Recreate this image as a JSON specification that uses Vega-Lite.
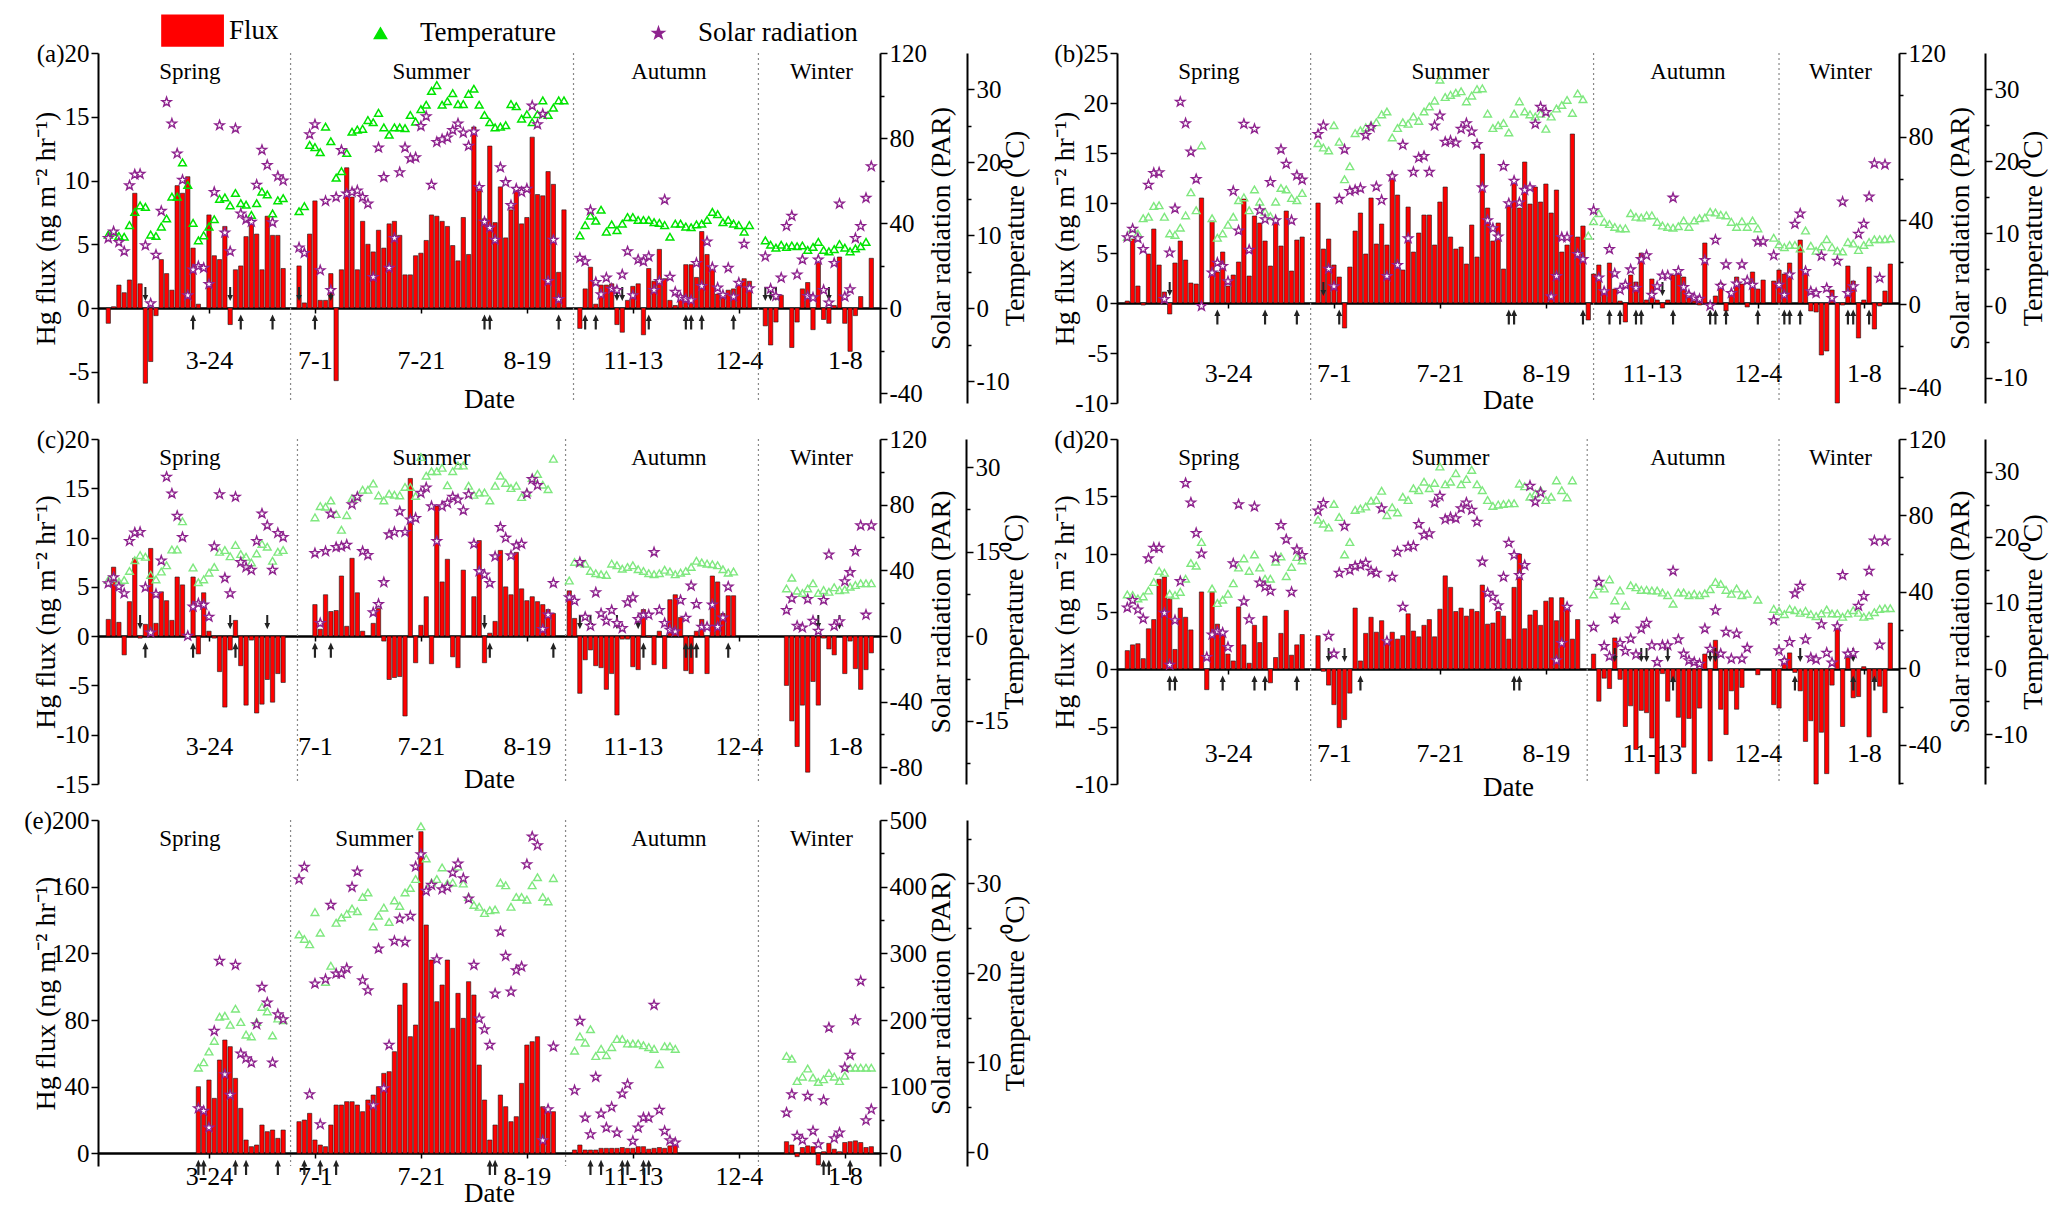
{
  "$schema": "https://vega.github.io/schema/vega-lite/v6.json",
  "padding": {"left": 23, "top": 17, "right": 5, "bottom": 5},
  "background": "white",
  "config": {
    "font": "Liberation Serif",
    "view": {"stroke": null},
    "axis": {
      "labelFont": "Liberation Serif", "titleFont": "Liberation Serif",
      "labelFontSize": 25, "titleFontSize": 28, "titleFontWeight": "normal",
      "labelColor": "black", "titleColor": "black",
      "domainColor": "black", "domainWidth": 2, "tickColor": "black", "tickWidth": 1.5,
      "grid": false, "labelOverlap": false
    },
    "legend": {
      "orient": "none", "legendX": 78, "legendY": -36, "direction": "horizontal", "title": null,
      "labelFont": "Liberation Serif", "labelFontSize": 27, "labelColor": "black", "labelOffset": 26,
      "columnPadding": 88, "padding": 0, "symbolSize": 150
    }
  },
  "datasets": {
    "a": [
      {"d":1,"f":-1.2,"t":10.1,"s":32.9},{"d":2,"f":0.1,"t":10.5,"s":36},{"d":3,"f":1.8,"t":9.9,"s":31},{"d":4,"f":1.2,"t":9.8,"s":26.7},
      {"d":5,"f":2.2,"t":11.4,"s":57.7},{"d":6,"f":9,"t":13.2,"s":62.8},{"d":7,"f":1.9,"t":14.1,"s":63.1},{"d":8,"f":-5.9,"t":13.9,"s":29.5},
      {"d":9,"f":-4.2,"t":10.1,"s":2.2},{"d":10,"f":-0.6,"t":9.9,"s":25.1},{"d":11,"f":3.8,"t":11.2,"s":45.7},{"d":12,"f":2.7,"t":12.3,"s":96.9},
      {"d":13,"f":1.4,"t":15.3,"s":86.8},{"d":14,"f":9.6,"t":15.3,"s":72.7},{"d":15,"f":9,"t":20,"s":60.3},{"d":16,"f":10.3,"t":16.9,"s":6},
      {"d":17,"f":4.7,"t":11.7,"s":18.1},{"d":18,"f":0.3,"t":9.3,"s":19.7},{"d":19,"f":null,"t":10,"s":18.9},{"d":20,"f":7.3,"t":11.2,"s":11.3},
      {"d":21,"f":4.1,"t":12.2,"s":54.6},{"d":22,"f":3.8,"t":15,"s":86},{"d":23,"f":6.4,"t":15.2,"s":35.5},{"d":24,"f":-1.3,"t":14.1,"s":26.7},
      {"d":25,"f":3,"t":15.8,"s":84.5},{"d":26,"f":3.3,"t":14.4,"s":44.5},{"d":27,"f":5.6,"t":14.2,"s":41.7},{"d":28,"f":6.6,"t":12.8,"s":40.6},
      {"d":29,"f":5.8,"t":14.4,"s":58},{"d":30,"f":3,"t":16,"s":74.4},{"d":31,"f":7.2,"t":15.6,"s":67.3},{"d":32,"f":5.7,"t":13,"s":40.3},
      {"d":33,"f":5.7,"t":14.8,"s":62},{"d":34,"f":3.1,"t":15.1,"s":60},
      {"d":37,"f":3.3,"t":13.3,"s":28.5},{"d":38,"f":0.4,"t":14,"s":25.9},{"d":39,"f":5.8,"t":22.4,"s":81.7},{"d":40,"f":8.4,"t":22.1,"s":86.4},
      {"d":41,"f":0.6,"t":21.4,"s":17.8},{"d":42,"f":0.6,"t":24.9,"s":50.4},{"d":43,"f":2.7,"t":22.9,"s":8.5},{"d":44,"f":-5.7,"t":17.9,"s":52.2},
      {"d":45,"f":3,"t":18.8,"s":74.3},{"d":46,"f":11,"t":21.3,"s":53.8},{"d":47,"f":8.7,"t":24.2,"s":54.6},{"d":48,"f":3,"t":24.5,"s":55.3},
      {"d":49,"f":6.8,"t":24.6,"s":52.2},{"d":50,"f":5,"t":25.8,"s":49.1},{"d":51,"f":4.4,"t":25.5,"s":14.6},{"d":52,"f":6.1,"t":26.8,"s":75.5},
      {"d":53,"f":4.7,"t":24.8,"s":61.6},{"d":54,"f":6.6,"t":23.8,"s":18.9},{"d":55,"f":6.8,"t":24.8,"s":32.9},{"d":56,"f":5.7,"t":24.8,"s":63.9},
      {"d":57,"f":2.6,"t":24.7,"s":75.5},{"d":58,"f":2.6,"t":26.5,"s":70.4},{"d":59,"f":4.1,"t":25.6,"s":70.9},{"d":60,"f":4.3,"t":27.3,"s":85.6},
      {"d":61,"f":5.3,"t":27.9,"s":90.2},{"d":62,"f":7.3,"t":29.8,"s":58},{"d":63,"f":7.2,"t":30.6,"s":78.1},{"d":64,"f":6.8,"t":27.9,"s":79.4},
      {"d":65,"f":6.4,"t":28.4,"s":80.2},{"d":66,"f":4.9,"t":29.5,"s":83.7},{"d":67,"f":3.7,"t":28,"s":86.8},{"d":68,"f":7.1,"t":28,"s":82.5},
      {"d":69,"f":4.2,"t":29.4,"s":76.3},{"d":70,"f":14.2,"t":30.1,"s":83},{"d":71,"f":9.2,"t":27.9,"s":56.9},{"d":72,"f":7,"t":26.5,"s":40.6},
      {"d":73,"f":12.7,"t":25.5,"s":37.8},{"d":74,"f":6.7,"t":24.8,"s":32.1},{"d":75,"f":9.5,"t":24.9,"s":66.2},{"d":76,"f":5.5,"t":25.1,"s":59.2},
      {"d":77,"f":7.7,"t":28,"s":48.4},{"d":78,"f":9.3,"t":27.7,"s":56.1},{"d":79,"f":6.6,"t":26,"s":54.6},{"d":80,"f":7.1,"t":26.6,"s":56.1},
      {"d":81,"f":13.4,"t":25.5,"s":95.2},{"d":82,"f":8.9,"t":26.6,"s":86.4},{"d":83,"f":8.8,"t":28.5,"s":91.3},{"d":84,"f":10.7,"t":26.5,"s":12.7},
      {"d":85,"f":9.7,"t":27.5,"s":32.1},{"d":86,"f":2.8,"t":28.5,"s":4.2},{"d":87,"f":7.7,"t":28.5,"s":null},
      {"d":90,"f":-1.6,"t":10,"s":23.6},{"d":91,"f":1.5,"t":11.4,"s":22},{"d":92,"f":3.2,"t":12.7,"s":46},{"d":93,"f":0.3,"t":12,"s":12.2},
      {"d":94,"f":1.8,"t":13.5,"s":6.5},{"d":95,"f":1.8,"t":10.5,"s":14.3},{"d":96,"f":1.9,"t":11.5,"s":9.1},{"d":97,"f":-1.3,"t":10.7,"s":8.5},
      {"d":98,"f":-1.9,"t":11.6,"s":15.8},{"d":99,"f":0.6,"t":12.5,"s":26.7},{"d":100,"f":1.7,"t":12.5,"s":6},{"d":101,"f":1.9,"t":12.1,"s":22.8},
      {"d":102,"f":-2.1,"t":12.1,"s":22},{"d":103,"f":3.1,"t":12.1,"s":24.3},{"d":104,"f":2.1,"t":11.8,"s":8.5},{"d":105,"f":4.6,"t":11.7,"s":12.7},
      {"d":106,"f":2.3,"t":11.4,"s":51},{"d":107,"f":0.6,"t":9.8,"s":14.7},{"d":108,"f":0.2,"t":11.6,"s":7.6},{"d":109,"f":1,"t":11.6,"s":5},
      {"d":110,"f":3.4,"t":11.2,"s":4.2},{"d":111,"f":3.4,"t":11.1,"s":3.7},{"d":112,"f":2.4,"t":11.5,"s":21.2},{"d":113,"f":6,"t":11.6,"s":10.4},
      {"d":114,"f":4.2,"t":12.1,"s":31.3},{"d":115,"f":3.1,"t":13.2,"s":19.2},{"d":116,"f":1.1,"t":12.9,"s":9.6},{"d":117,"f":0.8,"t":11.8,"s":6.2},
      {"d":118,"f":1.4,"t":12.1,"s":18.9},{"d":119,"f":1.5,"t":11.6,"s":5.4},{"d":120,"f":1.8,"t":11.4,"s":11.9},{"d":121,"f":2.3,"t":10.5,"s":30.2},
      {"d":122,"f":2.1,"t":11.4,"s":9.3},
      {"d":125,"f":-1.4,"t":9.3,"s":24.3},{"d":126,"f":-2.9,"t":8.7,"s":9.1},{"d":127,"f":-1.1,"t":8.3,"s":5.7},{"d":128,"f":1,"t":8.7,"s":14.3},
      {"d":129,"f":null,"t":8.4,"s":38.6},{"d":130,"f":-3.1,"t":8.6,"s":43.4},{"d":131,"f":-1.1,"t":8.5,"s":15.8},{"d":132,"f":1.5,"t":8.6,"s":22.8},
      {"d":133,"f":2,"t":8,"s":5.7},{"d":134,"f":-1.7,"t":8.4,"s":5},{"d":135,"f":3.6,"t":9.1,"s":22.8},{"d":136,"f":-0.9,"t":8,"s":8.5},
      {"d":137,"f":-1.2,"t":7.8,"s":2.6},{"d":138,"f":0.2,"t":8.1,"s":21.2},{"d":139,"f":4,"t":8.8,"s":49.1},{"d":140,"f":-1.2,"t":8.3,"s":5.4},
      {"d":141,"f":-3.4,"t":7.8,"s":8.8},{"d":142,"f":-0.6,"t":8.2,"s":32.9},{"d":143,"f":0.9,"t":8.5,"s":38.6},{"d":144,"f":null,"t":9.1,"s":51.8},
      {"d":145,"f":3.9,"t":null,"s":66.7}
    ],
    "b": [
      {"d":1,"f":0.2,"t":9.5,"s":31.9},{"d":2,"f":6.4,"t":10.7,"s":35.9},{"d":3,"f":1.7,"t":10,"s":31.4},{"d":4,"f":-0.2,"t":12.1,"s":26.2},
      {"d":5,"f":4.9,"t":12.3,"s":57},{"d":6,"f":7.4,"t":13.8,"s":62.6},{"d":7,"f":3.8,"t":13.9,"s":62.9},{"d":8,"f":1.1,"t":12.3,"s":2.3},
      {"d":9,"f":-1.1,"t":10,"s":24.6},{"d":10,"f":4,"t":9.8,"s":45.6},{"d":11,"f":6.2,"t":10.8,"s":96.6},{"d":12,"f":4.3,"t":12.5,"s":86.4},
      {"d":13,"f":2,"t":15.7,"s":72.8},{"d":14,"f":1.9,"t":13.2,"s":59.7},{"d":15,"f":10.5,"t":22.2,"s":-1},{"d":16,"f":null,"t":null,"s":null},
      {"d":17,"f":8.2,"t":12.1,"s":15},{"d":18,"f":3.1,"t":9.4,"s":19.7},{"d":19,"f":5.1,"t":10,"s":18.1},{"d":20,"f":1.7,"t":11.2,"s":10.8},
      {"d":21,"f":2.8,"t":12.3,"s":54},{"d":22,"f":4.1,"t":14.6,"s":35.1},{"d":23,"f":10.4,"t":15,"s":86.1},{"d":24,"f":2.7,"t":13.2,"s":25.9},
      {"d":25,"f":8.7,"t":16.1,"s":83.7},{"d":26,"f":8,"t":14.4,"s":44.8},{"d":27,"f":6.2,"t":13,"s":40.5},{"d":28,"f":3.7,"t":12.4,"s":58.3},
      {"d":29,"f":8.5,"t":14.4,"s":40},{"d":30,"f":5.7,"t":16.3,"s":73.9},{"d":31,"f":9.2,"t":16.1,"s":67},{"d":32,"f":3.2,"t":14.9,"s":40},
      {"d":33,"f":6.3,"t":14.6,"s":61.5},{"d":34,"f":6.6,"t":15.6,"s":59.4},
      {"d":37,"f":10,"t":22.5,"s":81.2},{"d":38,"f":5.4,"t":21.9,"s":85.3},{"d":39,"f":6.4,"t":21.5,"s":16.8},{"d":40,"f":3.8,"t":25,"s":8.4},
      {"d":41,"f":2.6,"t":22.7,"s":50.2},{"d":42,"f":-2.5,"t":17.5,"s":73.9},{"d":43,"f":3.6,"t":19.3,"s":54},{"d":44,"f":7.2,"t":23.9,"s":54.5},
      {"d":45,"f":9,"t":24.3,"s":55.3},{"d":46,"f":4.9,"t":24.7,"s":80.7},{"d":47,"f":10.5,"t":25,"s":84.5},{"d":48,"f":5.9,"t":25.4,"s":56.1},
      {"d":49,"f":7.9,"t":26.5,"s":49.7},{"d":50,"f":5.8,"t":26.9,"s":13.3},{"d":51,"f":12.9,"t":23.3,"s":61},{"d":52,"f":10.8,"t":24.6,"s":18.6},
      {"d":53,"f":3.3,"t":25.4,"s":76.1},{"d":54,"f":9.6,"t":25.2,"s":31.4},{"d":55,"f":5.1,"t":26.2,"s":63.1},{"d":56,"f":7,"t":25.6,"s":69.9},
      {"d":57,"f":8.8,"t":26.9,"s":70.7},{"d":58,"f":8.8,"t":27.6,"s":63.1},{"d":59,"f":5.8,"t":28.4,"s":85.3},{"d":60,"f":10.1,"t":31.3,"s":90.1},
      {"d":61,"f":11.6,"t":28.9,"s":77.5},{"d":62,"f":6.6,"t":29.2,"s":78},{"d":63,"f":5.4,"t":29.5,"s":77.2},{"d":64,"f":5.6,"t":29.7,"s":83.7},
      {"d":65,"f":3.9,"t":28.3,"s":86.4},{"d":66,"f":7.8,"t":29.1,"s":82.4},{"d":67,"f":4.6,"t":30,"s":76.4},{"d":68,"f":14.9,"t":30.1,"s":55.7},
      {"d":69,"f":9.5,"t":26.6,"s":40},{"d":70,"f":6.2,"t":24.6,"s":36.2},{"d":71,"f":8,"t":25,"s":32.2},{"d":72,"f":3.4,"t":25.3,"s":65.9},
      {"d":73,"f":9.9,"t":24,"s":48.1},{"d":74,"f":12.1,"t":26.6,"s":58.9},{"d":75,"f":9.5,"t":28.3,"s":48.5},{"d":76,"f":14.1,"t":26.9,"s":54.5},
      {"d":77,"f":9.9,"t":26.5,"s":55.7},{"d":78,"f":11.6,"t":26.2,"s":86.1},{"d":79,"f":10.1,"t":26.6,"s":94.2},{"d":80,"f":11.9,"t":24.5,"s":91.7},
      {"d":81,"f":9,"t":26.2,"s":3.6},{"d":82,"f":11.3,"t":27.3,"s":13.3},{"d":83,"f":5.1,"t":27.8,"s":31.9},{"d":84,"f":5.8,"t":28.5,"s":31.9},
      {"d":85,"f":16.9,"t":26.7,"s":null},{"d":86,"f":6.6,"t":29.4,"s":23.8},{"d":87,"f":7.7,"t":28.6,"s":21.4},{"d":88,"f":-1.7,"t":9.7,"s":null},
      {"d":89,"f":2.9,"t":11.7,"s":44.8},{"d":90,"f":3.8,"t":12.8,"s":12.6},{"d":91,"f":1.2,"t":11.6,"s":6},{"d":92,"f":4,"t":11.3,"s":26.2},
      {"d":93,"f":1.4,"t":10.9,"s":14.6},{"d":94,"f":0.2,"t":10.7,"s":6.8},{"d":95,"f":-1.9,"t":10.7,"s":9.2},{"d":96,"f":2.8,"t":12.8,"s":16.5},
      {"d":97,"f":2.1,"t":12.3,"s":7.6},{"d":98,"f":5,"t":12.2,"s":21.4},{"d":99,"f":0.3,"t":12.5,"s":23.3},{"d":100,"f":2.4,"t":12.5,"s":4.4},
      {"d":101,"f":0.3,"t":11.6,"s":8.4},{"d":102,"f":-0.5,"t":11.1,"s":13.6},{"d":103,"f":0.3,"t":10.9,"s":13.6},{"d":104,"f":2.8,"t":10.8,"s":50.8},
      {"d":105,"f":2.9,"t":11,"s":15.7},{"d":106,"f":2.6,"t":11.8,"s":8.1},{"d":107,"f":1,"t":10.9,"s":4.4},{"d":108,"f":0.2,"t":11.8,"s":3.1},
      {"d":109,"f":-0.2,"t":12.1,"s":2.4},{"d":110,"f":6,"t":12.2,"s":21},{"d":111,"f":null,"t":13,"s":-0.8},{"d":112,"f":0.7,"t":12.9,"s":30.7},
      {"d":113,"f":2,"t":12.6,"s":8.7},{"d":114,"f":-0.8,"t":12.5,"s":18.9},{"d":115,"f":1.2,"t":11.6,"s":5.2},{"d":116,"f":2.6,"t":10.9,"s":9.7},
      {"d":117,"f":1.9,"t":11.7,"s":18.9},{"d":118,"f":-0.4,"t":10.9,"s":11.2},{"d":119,"f":3.1,"t":11.8,"s":9.2},{"d":120,"f":1.4,"t":10.7,"s":29.9},
      {"d":121,"f":2.3,"t":null,"s":29.9},
      {"d":123,"f":2.2,"t":9.4,"s":23.3},{"d":124,"f":3.3,"t":8.5,"s":9.2},{"d":125,"f":2.9,"t":8.1,"s":4.4},{"d":126,"f":4,"t":8.4,"s":14.1},
      {"d":127,"f":null,"t":8.4,"s":38.3},{"d":128,"f":6.3,"t":7.9,"s":43.2},{"d":129,"f":3.3,"t":10.4,"s":15.7},{"d":130,"f":-0.8,"t":8.3,"s":6},
      {"d":131,"f":-0.9,"t":7.6,"s":5.2},{"d":132,"f":-5.2,"t":8.2,"s":23},{"d":133,"f":-4.8,"t":9.2,"s":7.6},{"d":134,"f":1.3,"t":8.1,"s":2.8},
      {"d":135,"f":-10,"t":7.6,"s":20.6},{"d":136,"f":-0.2,"t":7.5,"s":48.9},{"d":137,"f":3.7,"t":8.8,"s":5.2},{"d":138,"f":2.2,"t":8.6,"s":8.4},
      {"d":139,"f":-3.5,"t":7.7,"s":33.5},{"d":140,"f":0.3,"t":8.4,"s":38.3},{"d":141,"f":3.6,"t":8.8,"s":51.3},{"d":142,"f":-2.6,"t":9.2,"s":67.2},
      {"d":143,"f":-0.3,"t":9.2,"s":12.5},{"d":144,"f":1.2,"t":9.2,"s":66.7},{"d":145,"f":3.9,"t":9.3,"s":null}
    ],
    "c": [
      {"d":1,"f":1.7,"t":10,"s":32},{"d":2,"f":7,"t":10.3,"s":35.7},{"d":3,"f":1.4,"t":9.7,"s":30},{"d":4,"f":-1.9,"t":10,"s":25.9},
      {"d":5,"f":3.5,"t":11.6,"s":57.8},{"d":6,"f":7.9,"t":13.5,"s":62.9},{"d":7,"f":-0.2,"t":14.4,"s":63.3},{"d":8,"f":1.2,"t":14.1,"s":29.6},
      {"d":9,"f":8.9,"t":10.9,"s":2},{"d":10,"f":1.3,"t":10.1,"s":25.5},{"d":11,"f":4.5,"t":11.5,"s":45.9},{"d":12,"f":3.6,"t":12.6,"s":96.9},
      {"d":13,"f":1.6,"t":15.4,"s":86.7},{"d":14,"f":6,"t":15.4,"s":73.1},{"d":15,"f":5.2,"t":20.4,"s":60.2},{"d":16,"f":null,"t":null,"s":0},
      {"d":17,"f":6,"t":12.2,"s":17.8},{"d":18,"f":-1.8,"t":9.6,"s":19.8},{"d":19,"f":4.4,"t":10.1,"s":19},{"d":20,"f":0.5,"t":11.3,"s":11.6},
      {"d":21,"f":-0.2,"t":12.3,"s":54.5},{"d":22,"f":-3.6,"t":15,"s":86.3},{"d":23,"f":-7.2,"t":15.3,"s":35.3},{"d":24,"f":-1.4,"t":14.2,"s":25.9},
      {"d":25,"f":1.6,"t":16.2,"s":84.7},{"d":26,"f":-3,"t":14.6,"s":44.9},{"d":27,"f":-7,"t":14.1,"s":41.8},{"d":28,"f":-0.4,"t":13.1,"s":40.2},
      {"d":29,"f":-7.8,"t":14.7,"s":57.8},{"d":30,"f":-6.9,"t":16.4,"s":74.5},{"d":31,"f":-4.4,"t":15.9,"s":67.3},{"d":32,"f":-6.7,"t":13.4,"s":40.2},
      {"d":33,"f":-3.8,"t":15,"s":62.7},{"d":34,"f":-4.7,"t":15.3,"s":60.2},
      {"d":40,"f":3.2,"t":21.1,"s":50.4},{"d":41,"f":0.7,"t":23.1,"s":7.8},{"d":42,"f":4.2,"t":23,"s":51.6},{"d":43,"f":2.5,"t":24.1,"s":74.5},
      {"d":44,"f":2.6,"t":21.7,"s":54.1},{"d":45,"f":6.1,"t":18.9,"s":54.5},{"d":46,"f":1,"t":21.5,"s":55.5},{"d":47,"f":7.9,"t":24.5,"s":80.2},
      {"d":48,"f":4.4,"t":24.8,"s":84.7},{"d":49,"f":0.5,"t":26,"s":51.6},{"d":50,"f":null,"t":26,"s":49.2},{"d":51,"f":1.3,"t":27.1,"s":14.3},
      {"d":52,"f":2.8,"t":25,"s":19.4},{"d":53,"f":-0.5,"t":24.1,"s":32.7},{"d":54,"f":-4.4,"t":25.3,"s":61.8},{"d":55,"f":-4.2,"t":25.1,"s":63.3},
      {"d":56,"f":-4.1,"t":25,"s":75.9},{"d":57,"f":-8.1,"t":26.5,"s":63.3},{"d":58,"f":16,"t":26.5,"s":70.8},{"d":59,"f":-2.7,"t":24.9,"s":71.8},
      {"d":60,"f":1.1,"t":31.8,"s":87.1},{"d":61,"f":4,"t":28.5,"s":90.4},{"d":62,"f":-2.8,"t":29.3,"s":79},{"d":63,"f":13.2,"t":29.3,"s":57.8},
      {"d":64,"f":5.5,"t":29.9,"s":79},{"d":65,"f":7.8,"t":26.8,"s":81},{"d":66,"f":-2.1,"t":29.3,"s":84.7},{"d":67,"f":-3.2,"t":30.3,"s":83.1},
      {"d":68,"f":6.7,"t":30.3,"s":76.5},{"d":69,"f":null,"t":26.7,"s":86.3},{"d":70,"f":4,"t":25.1,"s":56.1},{"d":71,"f":9.7,"t":25.5,"s":39.4},
      {"d":72,"f":-2.7,"t":25.5,"s":37.3},{"d":73,"f":0.3,"t":24.1,"s":32.2},{"d":74,"f":1.5,"t":26.7,"s":48.4},{"d":75,"f":8.7,"t":28.5,"s":66.3},
      {"d":76,"f":5,"t":27.2,"s":59.8},{"d":77,"f":4.2,"t":26.3,"s":49},{"d":78,"f":8.5,"t":26.7,"s":55.1},{"d":79,"f":4.8,"t":24.7,"s":56.1},
      {"d":80,"f":3.6,"t":25.5,"s":86.7},{"d":81,"f":4,"t":28.1,"s":95.5},{"d":82,"f":3.5,"t":28.8,"s":91.8},{"d":83,"f":3.2,"t":26.9,"s":4.1},
      {"d":84,"f":2.7,"t":26.1,"s":12.9},{"d":85,"f":2.3,"t":31.5,"s":32.2},
      {"d":88,"f":4.6,"t":9.9,"s":23.5},{"d":89,"f":1.8,"t":13.2,"s":21.4},{"d":90,"f":-5.8,"t":13.1,"s":44.9},{"d":91,"f":-2.4,"t":12.9,"s":11.6},
      {"d":92,"f":-1.4,"t":11.6,"s":6.1},{"d":93,"f":-3,"t":11.2,"s":26.5},{"d":94,"f":-3.2,"t":11,"s":13.7},{"d":95,"f":-5.4,"t":10.9,"s":9.2},
      {"d":96,"f":-3.8,"t":12.9,"s":15.7},{"d":97,"f":-8,"t":12.6,"s":7.8},{"d":98,"f":-0.3,"t":12,"s":4.7},{"d":99,"f":-0.3,"t":12.3,"s":20.4},
      {"d":100,"f":-3.1,"t":12.6,"s":23.5},{"d":101,"f":-3.4,"t":11.9,"s":10.2},{"d":102,"f":2.7,"t":11.6,"s":12.9},{"d":103,"f":-0.1,"t":11.2,"s":12.9},
      {"d":104,"f":-2.9,"t":11,"s":51},{"d":105,"f":0.5,"t":11.2,"s":15.7},{"d":106,"f":-3.3,"t":11.8,"s":7.8},{"d":107,"f":3.7,"t":11.5,"s":3.7},
      {"d":108,"f":4.2,"t":11,"s":2.7},{"d":109,"f":1.9,"t":11.3,"s":21.8},{"d":110,"f":-3.5,"t":11.6,"s":11},{"d":111,"f":-3.8,"t":12.3,"s":30.6},
      {"d":112,"f":0.5,"t":13.4,"s":19.4},{"d":113,"f":1.7,"t":13.1,"s":5.5},{"d":114,"f":-3.8,"t":12.9,"s":5.5},{"d":115,"f":6.1,"t":12.8,"s":19},
      {"d":116,"f":5.5,"t":12.6,"s":5.5},{"d":117,"f":2.3,"t":11.9,"s":11.2},{"d":118,"f":4.1,"t":11.3,"s":30},{"d":119,"f":4.1,"t":11.5,"s":null},
      {"d":129,"f":-5,"t":8.5,"s":15.7},{"d":130,"f":-8.6,"t":10.4,"s":22.9},{"d":131,"f":-11.2,"t":8.1,"s":6.1},{"d":132,"f":-7,"t":7.7,"s":5.1},
      {"d":133,"f":-13.8,"t":8.5,"s":22.4},{"d":134,"f":-4.6,"t":9.4,"s":9.2},{"d":135,"f":-7,"t":7.7,"s":3.1},{"d":136,"f":-0.2,"t":8.2,"s":21.8},
      {"d":137,"f":-1.3,"t":7.9,"s":49.6},{"d":138,"f":-1.9,"t":8.7,"s":6.1},{"d":139,"f":null,"t":8.2,"s":8.8},{"d":140,"f":-3.8,"t":8.3,"s":33.3},
      {"d":141,"f":-0.5,"t":8.8,"s":38.8},{"d":142,"f":-3.3,"t":9.1,"s":51.6},{"d":143,"f":-5.4,"t":9.4,"s":67.3},{"d":144,"f":-3.4,"t":9.4,"s":12.9},
      {"d":145,"f":-1.7,"t":9.4,"s":67.3}
    ],
    "d": [
      {"d":1,"f":1.6,"t":11.3,"s":31.8},{"d":2,"f":2.1,"t":11.2,"s":35.7},{"d":3,"f":2.2,"t":10.7,"s":30.8},{"d":4,"f":0.9,"t":11,"s":26},
      {"d":5,"f":3.5,"t":11.9,"s":57.5},{"d":6,"f":4.3,"t":13.2,"s":63.1},{"d":7,"f":7.8,"t":14.9,"s":63.1},{"d":8,"f":8,"t":14.6,"s":29},
      {"d":9,"f":6.1,"t":11.4,"s":1.9},{"d":10,"f":1.7,"t":11.2,"s":25.2},{"d":11,"f":5.3,"t":11.7,"s":45.6},{"d":12,"f":4.5,"t":13.7,"s":96.9},
      {"d":13,"f":3.4,"t":16.1,"s":86.7},{"d":14,"f":null,"t":15.7,"s":70.8},{"d":15,"f":6.7,"t":19.3,"s":60.1},{"d":16,"f":-1.8,"t":null,"s":5.9},
      {"d":17,"f":6.7,"t":12.2,"s":17.7},{"d":18,"f":3.9,"t":10,"s":19.4},{"d":19,"f":2.9,"t":10.5,"s":18.7},{"d":20,"f":1.3,"t":11.4,"s":11.2},
      {"d":21,"f":0.7,"t":13,"s":54.9},{"d":22,"f":5.4,"t":15.4,"s":85.8},{"d":23,"f":2.1,"t":16.8,"s":35.1},{"d":24,"f":0.5,"t":14.9,"s":25.7},
      {"d":25,"f":3.8,"t":17.4,"s":84.6},{"d":26,"f":2.3,"t":15.4,"s":44.9},{"d":27,"f":4.6,"t":13.7,"s":42.7},{"d":28,"f":-1.2,"t":13.7,"s":40.6},
      {"d":29,"f":1,"t":16.3,"s":58},{"d":30,"f":3.1,"t":17.1,"s":75},{"d":31,"f":5.1,"t":14.1,"s":67.5},{"d":32,"f":1.2,"t":15.5,"s":40},
      {"d":33,"f":2.1,"t":17,"s":62.2},{"d":34,"f":3,"t":16.5,"s":59.3},
      {"d":37,"f":2.9,"t":22.7,"s":82.5},{"d":38,"f":-0.2,"t":22.1,"s":86.4},{"d":39,"f":-1.4,"t":21.5,"s":17},{"d":40,"f":-3.1,"t":25.1,"s":7.7},
      {"d":41,"f":-5.1,"t":23.1,"s":50},{"d":42,"f":-4.4,"t":17.4,"s":74.5},{"d":43,"f":-2.1,"t":19.3,"s":51.4},{"d":44,"f":5.3,"t":24.2,"s":53.5},
      {"d":45,"f":0.7,"t":24.4,"s":54},{"d":46,"f":3.1,"t":24.7,"s":55.2},{"d":47,"f":4.5,"t":25.6,"s":51},{"d":48,"f":3.2,"t":25.7,"s":50},
      {"d":49,"f":4.2,"t":27.1,"s":83.7},{"d":50,"f":2.5,"t":23.4,"s":14.2},{"d":51,"f":3.2,"t":24.6,"s":47.9},{"d":52,"f":2.6,"t":23.8,"s":61},
      {"d":53,"f":2.9,"t":26.2,"s":32.2},{"d":54,"f":4.8,"t":25.7,"s":63.6},{"d":55,"f":3.3,"t":27.5,"s":64},{"d":56,"f":2.8,"t":27.2,"s":75.5},
      {"d":57,"f":3.8,"t":28.5,"s":69.8},{"d":58,"f":4.3,"t":27.5,"s":70.6},{"d":59,"f":2.8,"t":28.3,"s":86.7},{"d":60,"f":5.2,"t":30.8,"s":90.2},
      {"d":61,"f":8.1,"t":28.1,"s":78},{"d":62,"f":7.1,"t":28.5,"s":79},{"d":63,"f":5,"t":29.8,"s":78.5},{"d":64,"f":5.3,"t":28.1,"s":83.7},
      {"d":65,"f":4.6,"t":28.9,"s":86.7},{"d":66,"f":5.2,"t":30.3,"s":82.9},{"d":67,"f":5,"t":28.1,"s":76.7},{"d":68,"f":7.3,"t":27.2,"s":55.8},
      {"d":69,"f":3.9,"t":25.7,"s":39.5},{"d":70,"f":4,"t":24.8,"s":37.4},{"d":71,"f":5,"t":25,"s":33},{"d":72,"f":4.6,"t":25.1,"s":47.9},
      {"d":73,"f":2.6,"t":25.2,"s":65.7},{"d":74,"f":7.1,"t":25.2,"s":59.3},{"d":75,"f":10,"t":28.2,"s":48.8},{"d":76,"f":3.5,"t":27.8,"s":54},
      {"d":77,"f":4.7,"t":26.2,"s":95.5},{"d":78,"f":5.1,"t":26.7,"s":87.2},{"d":79,"f":3.8,"t":27.2,"s":92},{"d":80,"f":5.9,"t":25.7,"s":null},
      {"d":81,"f":6.2,"t":26.2,"s":null},{"d":82,"f":4.2,"t":28.7,"s":4.2},{"d":83,"f":6.2,"t":27.2,"s":13.3},{"d":84,"f":5.4,"t":26.1,"s":32.2},
      {"d":85,"f":2.6,"t":28.7,"s":null},{"d":86,"f":4.3,"t":null,"s":null},
      {"d":89,"f":1.3,"t":11.3,"s":21.7},{"d":90,"f":-2.8,"t":12.6,"s":45.3},{"d":91,"f":-0.8,"t":12.2,"s":11.7},{"d":92,"f":-1.7,"t":13.6,"s":6.3},
      {"d":93,"f":2.7,"t":10.4,"s":26},{"d":94,"f":-0.9,"t":11.9,"s":13.3},{"d":95,"f":-5,"t":9.6,"s":9.1},{"d":96,"f":-3.2,"t":12.7,"s":15.6},
      {"d":97,"f":-7,"t":12.4,"s":7.3},{"d":98,"f":-3.6,"t":12,"s":20.8},{"d":99,"f":-3.8,"t":12,"s":23.8},{"d":100,"f":-6,"t":11.9,"s":12.1},
      {"d":101,"f":-9.1,"t":11.9,"s":3.3},{"d":102,"f":-0.4,"t":11.6,"s":12.1},{"d":103,"f":-2.8,"t":11.2,"s":12.1},{"d":104,"f":-1.1,"t":9.9,"s":51},
      {"d":105,"f":-4.2,"t":11.6,"s":15.2},{"d":106,"f":-6.8,"t":11.6,"s":7.7},{"d":107,"f":-4.3,"t":11.2,"s":4.2},{"d":108,"f":-9.1,"t":11.4,"s":3.3},
      {"d":109,"f":-3.4,"t":11.2,"s":2.4},{"d":110,"f":1.3,"t":11.5,"s":20.8},{"d":111,"f":-8,"t":12.1,"s":10.3},{"d":112,"f":2.5,"t":13.2,"s":30.4},
      {"d":113,"f":-3.5,"t":12.9,"s":7.7},{"d":114,"f":-5.7,"t":12,"s":19.1},{"d":115,"f":-1.9,"t":11.4,"s":5.1},{"d":116,"f":-3.5,"t":12.2,"s":18.2},
      {"d":117,"f":-1.6,"t":11.2,"s":5.1},{"d":118,"f":null,"t":11.4,"s":10.7},{"d":120,"f":-0.5,"t":10.5,"s":null},
      {"d":123,"f":-3.1,"t":9.1,"s":25.2},{"d":124,"f":-3.4,"t":8.8,"s":9.4},{"d":125,"f":0.9,"t":8.3,"s":3.8},{"d":126,"f":1.4,"t":9.1,"s":13.8},
      {"d":127,"f":-0.3,"t":8.9,"s":39.2},{"d":128,"f":-1.9,"t":8.5,"s":43.2},{"d":129,"f":-6.3,"t":8.8,"s":15.2},{"d":130,"f":-4.5,"t":8.3,"s":5.6},
      {"d":131,"f":-10,"t":8,"s":4.7},{"d":132,"f":-5.5,"t":8.4,"s":23.1},{"d":133,"f":-9.1,"t":9,"s":8.2},{"d":134,"f":-1.4,"t":8.4,"s":3},
      {"d":135,"f":3.6,"t":8.4,"s":22},{"d":136,"f":-5,"t":7.9,"s":48.8},{"d":137,"f":1,"t":8.4,"s":7.7},{"d":138,"f":-2.5,"t":8.9,"s":8},
      {"d":139,"f":-2.4,"t":8.5,"s":32.7},{"d":140,"f":0.2,"t":7.9,"s":37.8},{"d":141,"f":-5.9,"t":8.1,"s":51},{"d":142,"f":-1,"t":8.6,"s":66.8},
      {"d":143,"f":-1.5,"t":9.1,"s":12.4},{"d":144,"f":-3.8,"t":9.2,"s":66.8},{"d":145,"f":4,"t":9.2,"s":null}
    ],
    "e": [
      {"d":18,"f":40,"t":9.4,"s":67.5},{"d":19,"f":24,"t":10,"s":63.5},{"d":20,"f":44,"t":11.2,"s":38.5},{"d":21,"f":33,"t":12.4,"s":183.5},
      {"d":22,"f":56,"t":15.1,"s":288.5},{"d":23,"f":68,"t":15.2,"s":118.5},{"d":24,"f":64,"t":14.2,"s":87.5},{"d":25,"f":45,"t":16,"s":282.5},
      {"d":26,"f":27,"t":14.5,"s":149.5},{"d":27,"f":8,"t":13.1,"s":142.5},{"d":28,"f":4,"t":12.9,"s":136},{"d":29,"f":5,"t":14.5,"s":193.5},
      {"d":30,"f":17,"t":16.2,"s":249.5},{"d":31,"f":13,"t":15.7,"s":226},{"d":32,"f":14,"t":13,"s":136},{"d":33,"f":9,"t":14.9,"s":208.5},
      {"d":34,"f":14,"t":14.7,"s":201},
      {"d":37,"f":19,"t":24.3,"s":411},{"d":38,"f":20,"t":23.8,"s":429.5},{"d":39,"f":24,"t":23.2,"s":88.5},{"d":40,"f":8,"t":26.8,"s":254.5},
      {"d":41,"f":5,"t":24.5,"s":43.5},{"d":42,"f":4,"t":19,"s":261},{"d":43,"f":17,"t":20.8,"s":372.5},{"d":44,"f":29,"t":25.6,"s":269.5},
      {"d":45,"f":29,"t":26.2,"s":269.5},{"d":46,"f":31,"t":26.6,"s":277.5},{"d":47,"f":31,"t":27.2,"s":399.5},{"d":48,"f":29,"t":26.9,"s":422.5},
      {"d":49,"f":25,"t":28.5,"s":259.5},{"d":50,"f":32,"t":29,"s":244.5},{"d":51,"f":35,"t":25.2,"s":72},{"d":52,"f":40,"t":26.4,"s":307},
      {"d":53,"f":48,"t":27.3,"s":97.5},{"d":54,"f":49,"t":25.7,"s":162.5},{"d":55,"f":61,"t":28.1,"s":318.5},{"d":56,"f":89,"t":27.5,"s":352},
      {"d":57,"f":102,"t":29,"s":317},{"d":58,"f":70,"t":29.5,"s":356},{"d":59,"f":77,"t":30.5,"s":430},{"d":60,"f":193,"t":36.4,"s":448.5},
      {"d":61,"f":137,"t":32.8,"s":393.5},{"d":62,"f":116,"t":30.1,"s":402.5},{"d":63,"f":91,"t":30.5,"s":291},{"d":64,"f":101,"t":31.8,"s":396},
      {"d":65,"f":116,"t":30,"s":399.5},{"d":66,"f":75,"t":30.1,"s":421},{"d":67,"f":96,"t":31.9,"s":434.5},{"d":68,"f":81,"t":30,"s":412.5},
      {"d":69,"f":103,"t":28.5,"s":382},{"d":70,"f":95,"t":27.6,"s":282.5},{"d":71,"f":53,"t":27.4,"s":202},{"d":72,"f":32,"t":26.7,"s":186},
      {"d":73,"f":8,"t":27,"s":162.5},{"d":74,"f":17,"t":27.1,"s":239.5},{"d":75,"f":35,"t":30.1,"s":332.5},{"d":76,"f":28,"t":29.8,"s":296},
      {"d":77,"f":19,"t":27.4,"s":242.5},{"d":78,"f":22,"t":28.5,"s":274.5},{"d":79,"f":42,"t":28.5,"s":280},{"d":80,"f":65,"t":28.2,"s":433.5},
      {"d":81,"f":67,"t":29.8,"s":475},{"d":82,"f":70,"t":30.7,"s":462},{"d":83,"f":28,"t":28.5,"s":19.5},{"d":84,"f":27,"t":28,"s":66},
      {"d":85,"f":25,"t":30.6,"s":160},
      {"d":89,"f":2,"t":11.3,"s":94.5},{"d":90,"f":5,"t":12.9,"s":198.5},{"d":91,"f":2,"t":12.2,"s":53.5},{"d":92,"f":2,"t":13.7,"s":28.5},
      {"d":93,"f":2,"t":10.7,"s":114.5},{"d":94,"f":3,"t":11.5,"s":59.5},{"d":95,"f":3,"t":10.8,"s":38.5},{"d":96,"f":3,"t":11.7,"s":69.5},
      {"d":97,"f":3,"t":12.6,"s":31},{"d":98,"f":3.5,"t":12.6,"s":89.5},{"d":99,"f":3,"t":12.1,"s":103.5},{"d":100,"f":3,"t":12.1,"s":18.5},
      {"d":101,"f":4,"t":12.1,"s":38.5},{"d":102,"f":4,"t":11.9,"s":53.5},{"d":103,"f":2.5,"t":11.7,"s":53.5},{"d":104,"f":3,"t":11.5,"s":222.5},
      {"d":105,"f":3.5,"t":9.8,"s":65},{"d":106,"f":3,"t":11.8,"s":33.5},{"d":107,"f":4.5,"t":11.8,"s":19.5},{"d":108,"f":5,"t":11.5,"s":16},
      {"d":129,"f":7,"t":10.7,"s":61},{"d":130,"f":5,"t":10.4,"s":88.5},{"d":131,"f":-2,"t":7.9,"s":26},{"d":132,"f":3.5,"t":8.4,"s":20},
      {"d":133,"f":4.5,"t":9.3,"s":86},{"d":134,"f":4,"t":8.3,"s":33.5},{"d":135,"f":-7,"t":7.8,"s":13.5},{"d":136,"f":1,"t":8.1,"s":79.5},
      {"d":137,"f":6,"t":8.8,"s":188.5},{"d":138,"f":2.5,"t":8.4,"s":22.5},{"d":139,"f":1,"t":7.9,"s":31},{"d":140,"f":6.5,"t":8.5,"s":128.5},
      {"d":141,"f":7,"t":9.4,"s":147.5},{"d":142,"f":7.5,"t":9.4,"s":199.5},{"d":143,"f":6.5,"t":9.4,"s":258.5},{"d":144,"f":3.5,"t":9.4,"s":49.5},
      {"d":145,"f":4,"t":9.4,"s":66}
    ],
    "arr": [
      {"p":"a","d":17,"u":1},{"p":"a","d":26,"u":1},{"p":"a","d":32,"u":1},{"p":"a","d":40,"u":1},{"p":"a","d":72,"u":1},{"p":"a","d":73,"u":1},
      {"p":"a","d":86,"u":1},{"p":"a","d":91,"u":1},{"p":"a","d":93,"u":1},{"p":"a","d":103,"u":1},{"p":"a","d":110,"u":1},{"p":"a","d":111,"u":1},
      {"p":"a","d":113,"u":1},{"p":"a","d":119,"u":1},
      {"p":"a","d":8,"u":0},{"p":"a","d":24,"u":0},{"p":"a","d":37,"u":0},{"p":"a","d":43,"u":0},{"p":"a","d":97,"u":0},{"p":"a","d":98,"u":0},
      {"p":"a","d":125,"u":0},{"p":"a","d":126,"u":0},{"p":"a","d":127,"u":0},{"p":"a","d":137,"u":0},
      {"p":"b","d":18,"u":1},{"p":"b","d":27,"u":1},{"p":"b","d":33,"u":1},{"p":"b","d":41,"u":1},{"p":"b","d":73,"u":1},{"p":"b","d":74,"u":1},
      {"p":"b","d":87,"u":1},{"p":"b","d":92,"u":1},{"p":"b","d":94,"u":1},{"p":"b","d":97,"u":1},{"p":"b","d":98,"u":1},{"p":"b","d":104,"u":1},
      {"p":"b","d":111,"u":1},{"p":"b","d":112,"u":1},{"p":"b","d":114,"u":1},{"p":"b","d":120,"u":1},{"p":"b","d":125,"u":1},{"p":"b","d":126,"u":1},
      {"p":"b","d":128,"u":1},{"p":"b","d":137,"u":1},{"p":"b","d":138,"u":1},{"p":"b","d":141,"u":1},
      {"p":"b","d":9,"u":0},{"p":"b","d":38,"u":0},{"p":"b","d":102,"u":0},
      {"p":"c","d":8,"u":1},{"p":"c","d":17,"u":1},{"p":"c","d":25,"u":1},{"p":"c","d":40,"u":1},{"p":"c","d":43,"u":1},{"p":"c","d":73,"u":1},
      {"p":"c","d":85,"u":1},{"p":"c","d":102,"u":1},{"p":"c","d":110,"u":1},{"p":"c","d":111,"u":1},{"p":"c","d":112,"u":1},{"p":"c","d":118,"u":1},
      {"p":"c","d":7,"u":0},{"p":"c","d":24,"u":0},{"p":"c","d":31,"u":0},{"p":"c","d":72,"u":0},{"p":"c","d":90,"u":0},{"p":"c","d":92,"u":0},
      {"p":"c","d":97,"u":0},{"p":"c","d":101,"u":0},{"p":"c","d":135,"u":0},{"p":"c","d":139,"u":0},
      {"p":"d","d":9,"u":1},{"p":"d","d":10,"u":1},{"p":"d","d":19,"u":1},{"p":"d","d":25,"u":1},{"p":"d","d":27,"u":1},{"p":"d","d":33,"u":1},
      {"p":"d","d":45,"u":1},{"p":"d","d":74,"u":1},{"p":"d","d":75,"u":1},{"p":"d","d":104,"u":1},{"p":"d","d":127,"u":1},{"p":"d","d":138,"u":1},
      {"p":"d","d":142,"u":1},
      {"p":"d","d":39,"u":0},{"p":"d","d":42,"u":0},{"p":"d","d":93,"u":0},{"p":"d","d":98,"u":0},{"p":"d","d":99,"u":0},{"p":"d","d":103,"u":0},
      {"p":"d","d":111,"u":0},{"p":"d","d":112,"u":0},{"p":"d","d":128,"u":0},{"p":"d","d":138,"u":0},
      {"p":"e","d":18,"u":1},{"p":"e","d":19,"u":1},{"p":"e","d":25,"u":1},{"p":"e","d":27,"u":1},{"p":"e","d":33,"u":1},{"p":"e","d":38,"u":1},
      {"p":"e","d":41,"u":1},{"p":"e","d":44,"u":1},{"p":"e","d":73,"u":1},{"p":"e","d":74,"u":1},{"p":"e","d":92,"u":1},{"p":"e","d":94,"u":1},
      {"p":"e","d":98,"u":1},{"p":"e","d":99,"u":1},{"p":"e","d":102,"u":1},{"p":"e","d":103,"u":1},{"p":"e","d":136,"u":1},{"p":"e","d":137,"u":1},
      {"p":"e","d":141,"u":1}
    ],
    "season": [
      {"p":"a","d":16.4,"s":"Spring"},{"p":"a","d":62,"s":"Summer"},{"p":"a","d":106.8,"s":"Autumn"},{"p":"a","d":135.6,"s":"Winter"},
      {"p":"b","d":16.4,"s":"Spring"},{"p":"b","d":62,"s":"Summer"},{"p":"b","d":106.8,"s":"Autumn"},{"p":"b","d":135.6,"s":"Winter"},
      {"p":"c","d":16.4,"s":"Spring"},{"p":"c","d":62,"s":"Summer"},{"p":"c","d":106.8,"s":"Autumn"},{"p":"c","d":135.6,"s":"Winter"},
      {"p":"d","d":16.4,"s":"Spring"},{"p":"d","d":62,"s":"Summer"},{"p":"d","d":106.8,"s":"Autumn"},{"p":"d","d":135.6,"s":"Winter"},
      {"p":"e","d":16.4,"s":"Spring"},{"p":"e","d":51.2,"s":"Summer"},{"p":"e","d":106.8,"s":"Autumn"},{"p":"e","d":135.6,"s":"Winter"}
    ],
    "divider": [
      {"p":"a","d":35.4},{"p":"a","d":88.8},{"p":"a","d":123.7},
      {"p":"b","d":35.6},{"p":"b","d":89},{"p":"b","d":124},
      {"p":"c","d":36.7},{"p":"c","d":87.3},{"p":"c","d":123.7},
      {"p":"d","d":35.6},{"p":"d","d":87.8},{"p":"d","d":124},
      {"p":"e","d":35.4},{"p":"e","d":87.3},{"p":"e","d":123.7}
    ]
  },
  "bounds": "flush",
  "columns": 2,
  "spacing": {"row": 36, "column": 237},
  "concat": [
    {
      "width": 782, "height": 350,
      "encoding": {"x": {"field": "d", "type": "quantitative", "title": "Date",
        "scale": {"domain": [0, 145.7], "nice": false, "zero": false},
        "axis": {"values": [20,40,60,80,100,120,140], "labelExpr": "datum.value==20?'3-24':datum.value==40?'7-1':datum.value==60?'7-21':datum.value==80?'8-19':datum.value==100?'11-13':datum.value==120?'12-4':'1-8'",
          "offset": -95, "tickSize": 5, "labelPadding": 34, "titleY": 91, "titleBaseline": "middle", "domainWidth": 2.5, "labelFontSize": 26, "titleFontSize": 27}}},
      "layer": [
        {"layer": [
          {"data": {"name": "divider"}, "transform": [{"filter": "datum.p=='a'"}],
           "mark": {"type": "rule", "color": "#888888", "strokeDash": [2, 3], "strokeWidth": 1.2},
           "encoding": {"x": {"field": "d", "type": "quantitative"}}},
          {"data": {"name": "a"},
           "mark": {"type": "bar", "width": 4.3, "stroke": "#1a1a1a", "strokeWidth": 0.6},
           "encoding": {
             "y": {"field": "f", "type": "quantitative", "title": "Hg flux (ng m⁻² hr⁻¹)",
               "scale": {"domain": [-7.45, 20], "nice": false, "zero": false},
               "axis": {"orient": "left", "values": [-5,-2.5,0,2.5,5,7.5,10,12.5,15,17.5,20],
                 "labelExpr": "datum.value==20?'(a)20':(datum.value%5==0?''+datum.value:'')",
                 "tickSize": {"condition": {"test": "datum.value%5==0", "value": 7}, "value": 4},
                 "titleX": -38, "titleAngle": 270, "titleBaseline": "bottom", "titleAlign": "center"}},
             "color": {"datum": "Flux",
               "scale": {"domain": ["Flux", "Temperature", "Solar radiation"], "range": ["#ff0000", "#00e400", "#8e238e"]}}
           }},
          {"data": {"name": "arr"}, "transform": [{"filter": "datum.p=='a' && datum.u==1"}],
           "mark": {"type": "point", "shape": "arrow", "filled": true, "color": "#222222", "size": 230, "yOffset": 14, "opacity": 1},
           "encoding": {"x": {"field": "d", "type": "quantitative"}, "y": {"datum": 0}}},
          {"data": {"name": "arr"}, "transform": [{"filter": "datum.p=='a' && datum.u==0"}],
           "mark": {"type": "point", "shape": "arrow", "angle": 180, "filled": true, "color": "#222222", "size": 200, "yOffset": -14, "opacity": 1},
           "encoding": {"x": {"field": "d", "type": "quantitative"}, "y": {"datum": 0}}},
          {"data": {"name": "season"}, "transform": [{"filter": "datum.p=='a'"}],
           "mark": {"type": "text", "baseline": "top", "dy": 8, "fontSize": 23, "font": "Liberation Serif", "color": "black"},
           "encoding": {"x": {"field": "d", "type": "quantitative"}, "y": {"datum": 20}, "text": {"field": "s"}}},
          {"data": {"values": [{}]},
           "mark": {"type": "rule", "color": "black", "strokeWidth": 2.5},
           "encoding": {"x": {"datum": 0}, "x2": {"datum": 145.7}, "y": {"datum": 20}}}
        ]},
        {"data": {"name": "a"},
         "mark": {"type": "point", "filled": false, "size": 60, "strokeWidth": 1.5, "opacity": 1},
         "encoding": {
           "y": {"field": "t", "type": "quantitative", "title": "Temperature (⁰C)",
             "scale": {"domain": [-13, 35], "nice": false, "zero": false},
             "axis": {"orient": "right", "offset": 87, "values": [-10,-5,0,5,10,15,20,25,30],
               "labelExpr": "datum.value%10==0?''+datum.value:''",
               "tickSize": {"condition": {"test": "datum.value%10==0", "value": 7}, "value": 4},
               "titleX": 62, "titleAngle": 270, "titleBaseline": "bottom", "titleAlign": "center"}},
           "color": {"datum": "Temperature"},
           "shape": {"datum": "Temperature",
             "scale": {"domain": ["Flux", "Temperature", "Solar radiation"], "range": ["M-4.5,-2.5L5.5,-2.5L5.5,2.5L-4.5,2.5Z", "triangle-up", "M0,-1L0.235,-0.324L0.951,-0.309L0.38,0.124L0.588,0.809L0,0.4L-0.588,0.809L-0.38,0.124L-0.951,-0.309L-0.235,-0.324Z"]}}
         }},
        {"data": {"name": "a"},
         "mark": {"type": "point", "filled": false, "size": 95, "strokeWidth": 1.4, "opacity": 1},
         "encoding": {
           "y": {"field": "s", "type": "quantitative", "title": "Solar radiation (PAR)",
             "scale": {"domain": [-44.6, 120], "nice": false, "zero": false},
             "axis": {"orient": "right", "offset": 0, "values": [-40,-20,0,20,40,60,80,100,120],
               "labelExpr": "datum.value%40==0?''+datum.value:''",
               "tickSize": {"condition": {"test": "datum.value%40==0", "value": 7}, "value": 4},
               "titleX": 75, "titleAngle": 270, "titleBaseline": "bottom", "titleAlign": "center"}},
           "color": {"datum": "Solar radiation"},
           "shape": {"datum": "Solar radiation"},
           "fill": {"value": "white"}
         }}
      ],
      "resolve": {"scale": {"y": "independent"}}
    },
    {
      "width": 782, "height": 350,
      "encoding": {"x": {"field": "d", "type": "quantitative", "title": "Date",
        "scale": {"domain": [0, 145.7], "nice": false, "zero": false},
        "axis": {"values": [20,40,60,80,100,120,140], "labelExpr": "datum.value==20?'3-24':datum.value==40?'7-1':datum.value==60?'7-21':datum.value==80?'8-19':datum.value==100?'11-13':datum.value==120?'12-4':'1-8'",
          "offset": -100, "tickSize": 5, "labelPadding": 52, "titleY": 97, "titleBaseline": "middle", "domainWidth": 2.5, "labelFontSize": 26, "titleFontSize": 27}}},
      "layer": [
        {"layer": [
          {"data": {"name": "divider"}, "transform": [{"filter": "datum.p=='b'"}],
           "mark": {"type": "rule", "color": "#888888", "strokeDash": [2, 3], "strokeWidth": 1.2},
           "encoding": {"x": {"field": "d", "type": "quantitative"}}},
          {"data": {"name": "b"},
           "mark": {"type": "bar", "width": 4.3, "fill": "#ff0000", "stroke": "#1a1a1a", "strokeWidth": 0.6},
           "encoding": {
             "y": {"field": "f", "type": "quantitative", "title": "Hg flux (ng m⁻² hr⁻¹)",
               "scale": {"domain": [-10, 25], "nice": false, "zero": false},
               "axis": {"orient": "left", "values": [-10,-7.5,-5,-2.5,0,2.5,5,7.5,10,12.5,15,17.5,20,22.5,25],
                 "labelExpr": "datum.value==25?'(b)25':(datum.value%5==0?''+datum.value:'')",
                 "tickSize": {"condition": {"test": "datum.value%5==0", "value": 7}, "value": 4},
                 "titleX": -38, "titleAngle": 270, "titleBaseline": "bottom", "titleAlign": "center"}}
           }},
          {"data": {"name": "arr"}, "transform": [{"filter": "datum.p=='b' && datum.u==1"}],
           "mark": {"type": "point", "shape": "arrow", "filled": true, "color": "#222222", "size": 230, "yOffset": 14, "opacity": 1},
           "encoding": {"x": {"field": "d", "type": "quantitative"}, "y": {"datum": 0}}},
          {"data": {"name": "arr"}, "transform": [{"filter": "datum.p=='b' && datum.u==0"}],
           "mark": {"type": "point", "shape": "arrow", "angle": 180, "filled": true, "color": "#222222", "size": 200, "yOffset": -14, "opacity": 1},
           "encoding": {"x": {"field": "d", "type": "quantitative"}, "y": {"datum": 0}}},
          {"data": {"name": "season"}, "transform": [{"filter": "datum.p=='b'"}],
           "mark": {"type": "text", "baseline": "top", "dy": 8, "fontSize": 23, "font": "Liberation Serif", "color": "black"},
           "encoding": {"x": {"field": "d", "type": "quantitative"}, "y": {"datum": 25}, "text": {"field": "s"}}},
          {"data": {"values": [{}]},
           "mark": {"type": "rule", "color": "black", "strokeWidth": 2.5},
           "encoding": {"x": {"datum": 0}, "x2": {"datum": 145.7}, "y": {"datum": 25}}}
        ]},
        {"data": {"name": "b"},
         "mark": {"type": "point", "shape": "triangle-up", "filled": false, "color": "#7fe87f", "size": 60, "strokeWidth": 1.4, "opacity": 1},
         "encoding": {
           "y": {"field": "t", "type": "quantitative", "title": "Temperature (⁰C)",
             "scale": {"domain": [-13.5, 35], "nice": false, "zero": false},
             "axis": {"orient": "right", "offset": 86, "values": [-10,-5,0,5,10,15,20,25,30],
               "labelExpr": "datum.value%10==0?''+datum.value:''",
               "tickSize": {"condition": {"test": "datum.value%10==0", "value": 7}, "value": 4},
               "titleX": 62, "titleAngle": 270, "titleBaseline": "bottom", "titleAlign": "center"}}
         }},
        {"data": {"name": "b"},
         "mark": {"type": "point", "shape": "M0,-1L0.235,-0.324L0.951,-0.309L0.38,0.124L0.588,0.809L0,0.4L-0.588,0.809L-0.38,0.124L-0.951,-0.309L-0.235,-0.324Z", "filled": false, "size": 95, "strokeWidth": 1.4, "opacity": 1},
         "encoding": {
           "y": {"field": "s", "type": "quantitative", "title": "Solar radiation (PAR)",
             "scale": {"domain": [-47.3, 120], "nice": false, "zero": false},
             "axis": {"orient": "right", "offset": 0, "values": [-40,-20,0,20,40,60,80,100,120],
               "labelExpr": "datum.value%40==0?''+datum.value:''",
               "tickSize": {"condition": {"test": "datum.value%40==0", "value": 7}, "value": 4},
               "titleX": 75, "titleAngle": 270, "titleBaseline": "bottom", "titleAlign": "center"}},
           "fill": {"value": "white"},
           "stroke": {"value": "#8e238e"}
         }}
      ],
      "resolve": {"scale": {"y": "independent"}}
    },
    {
      "width": 782, "height": 345,
      "encoding": {"x": {"field": "d", "type": "quantitative", "title": "Date",
        "scale": {"domain": [0, 145.7], "nice": false, "zero": false},
        "axis": {"values": [20,40,60,80,100,120,140], "labelExpr": "datum.value==20?'3-24':datum.value==40?'7-1':datum.value==60?'7-21':datum.value==80?'8-19':datum.value==100?'11-13':datum.value==120?'12-4':'1-8'",
          "offset": -148, "tickSize": 5, "labelPadding": 92, "titleY": 143, "titleBaseline": "middle", "domainWidth": 2.5, "labelFontSize": 26, "titleFontSize": 27}}},
      "layer": [
        {"layer": [
          {"data": {"name": "divider"}, "transform": [{"filter": "datum.p=='c'"}],
           "mark": {"type": "rule", "color": "#888888", "strokeDash": [2, 3], "strokeWidth": 1.2},
           "encoding": {"x": {"field": "d", "type": "quantitative"}}},
          {"data": {"name": "c"},
           "mark": {"type": "bar", "width": 4.3, "fill": "#ff0000", "stroke": "#1a1a1a", "strokeWidth": 0.6},
           "encoding": {
             "y": {"field": "f", "type": "quantitative", "title": "Hg flux (ng m⁻² hr⁻¹)",
               "scale": {"domain": [-15, 20], "nice": false, "zero": false},
               "axis": {"orient": "left", "values": [-15,-12.5,-10,-7.5,-5,-2.5,0,2.5,5,7.5,10,12.5,15,17.5,20],
                 "labelExpr": "datum.value==20?'(c)20':(datum.value%5==0?''+datum.value:'')",
                 "tickSize": {"condition": {"test": "datum.value%5==0", "value": 7}, "value": 4},
                 "titleX": -38, "titleAngle": 270, "titleBaseline": "bottom", "titleAlign": "center"}}
           }},
          {"data": {"name": "arr"}, "transform": [{"filter": "datum.p=='c' && datum.u==1"}],
           "mark": {"type": "point", "shape": "arrow", "filled": true, "color": "#222222", "size": 230, "yOffset": 14, "opacity": 1},
           "encoding": {"x": {"field": "d", "type": "quantitative"}, "y": {"datum": 0}}},
          {"data": {"name": "arr"}, "transform": [{"filter": "datum.p=='c' && datum.u==0"}],
           "mark": {"type": "point", "shape": "arrow", "angle": 180, "filled": true, "color": "#222222", "size": 200, "yOffset": -14, "opacity": 1},
           "encoding": {"x": {"field": "d", "type": "quantitative"}, "y": {"datum": 0}}},
          {"data": {"name": "season"}, "transform": [{"filter": "datum.p=='c'"}],
           "mark": {"type": "text", "baseline": "top", "dy": 8, "fontSize": 23, "font": "Liberation Serif", "color": "black"},
           "encoding": {"x": {"field": "d", "type": "quantitative"}, "y": {"datum": 20}, "text": {"field": "s"}}},
          {"data": {"values": [{}]},
           "mark": {"type": "rule", "color": "black", "strokeWidth": 2.5},
           "encoding": {"x": {"datum": 0}, "x2": {"datum": 145.7}, "y": {"datum": 20}}}
        ]},
        {"data": {"name": "c"},
         "mark": {"type": "point", "shape": "triangle-up", "filled": false, "color": "#7fe87f", "size": 60, "strokeWidth": 1.4, "opacity": 1},
         "encoding": {
           "y": {"field": "t", "type": "quantitative", "title": "Temperature (⁰C)",
             "scale": {"domain": [-26.2, 35], "nice": false, "zero": false},
             "axis": {"orient": "right", "offset": 86, "values": [-22.5,-15,-7.5,0,7.5,15,22.5,30],
               "labelExpr": "datum.value%15==0?''+datum.value:''",
               "tickSize": {"condition": {"test": "datum.value%15==0", "value": 7}, "value": 4},
               "titleX": 62, "titleAngle": 270, "titleBaseline": "bottom", "titleAlign": "center"}}
         }},
        {"data": {"name": "c"},
         "mark": {"type": "point", "shape": "M0,-1L0.235,-0.324L0.951,-0.309L0.38,0.124L0.588,0.809L0,0.4L-0.588,0.809L-0.38,0.124L-0.951,-0.309L-0.235,-0.324Z", "filled": false, "size": 95, "strokeWidth": 1.4, "opacity": 1},
         "encoding": {
           "y": {"field": "s", "type": "quantitative", "title": "Solar radiation (PAR)",
             "scale": {"domain": [-90.2, 120], "nice": false, "zero": false},
             "axis": {"orient": "right", "offset": 0, "values": [-80,-60,-40,-20,0,20,40,60,80,100,120],
               "labelExpr": "datum.value%40==0?''+datum.value:''",
               "tickSize": {"condition": {"test": "datum.value%40==0", "value": 7}, "value": 4},
               "titleX": 75, "titleAngle": 270, "titleBaseline": "bottom", "titleAlign": "center"}},
           "fill": {"value": "white"},
           "stroke": {"value": "#8e238e"}
         }}
      ],
      "resolve": {"scale": {"y": "independent"}}
    },
    {
      "width": 782, "height": 345,
      "encoding": {"x": {"field": "d", "type": "quantitative", "title": "Date",
        "scale": {"domain": [0, 145.7], "nice": false, "zero": false},
        "axis": {"values": [20,40,60,80,100,120,140], "labelExpr": "datum.value==20?'3-24':datum.value==40?'7-1':datum.value==60?'7-21':datum.value==80?'8-19':datum.value==100?'11-13':datum.value==120?'12-4':'1-8'",
          "offset": -115, "tickSize": 5, "labelPadding": 66, "titleY": 118, "titleBaseline": "middle", "domainWidth": 2.5, "labelFontSize": 26, "titleFontSize": 27}}},
      "layer": [
        {"layer": [
          {"data": {"name": "divider"}, "transform": [{"filter": "datum.p=='d'"}],
           "mark": {"type": "rule", "color": "#888888", "strokeDash": [2, 3], "strokeWidth": 1.2},
           "encoding": {"x": {"field": "d", "type": "quantitative"}}},
          {"data": {"name": "d"},
           "mark": {"type": "bar", "width": 4.3, "fill": "#ff0000", "stroke": "#1a1a1a", "strokeWidth": 0.6},
           "encoding": {
             "y": {"field": "f", "type": "quantitative", "title": "Hg flux (ng m⁻² hr⁻¹)",
               "scale": {"domain": [-10, 20], "nice": false, "zero": false},
               "axis": {"orient": "left", "values": [-10,-7.5,-5,-2.5,0,2.5,5,7.5,10,12.5,15,17.5,20],
                 "labelExpr": "datum.value==20?'(d)20':(datum.value%5==0?''+datum.value:'')",
                 "tickSize": {"condition": {"test": "datum.value%5==0", "value": 7}, "value": 4},
                 "titleX": -38, "titleAngle": 270, "titleBaseline": "bottom", "titleAlign": "center"}}
           }},
          {"data": {"name": "arr"}, "transform": [{"filter": "datum.p=='d' && datum.u==1"}],
           "mark": {"type": "point", "shape": "arrow", "filled": true, "color": "#222222", "size": 230, "yOffset": 14, "opacity": 1},
           "encoding": {"x": {"field": "d", "type": "quantitative"}, "y": {"datum": 0}}},
          {"data": {"name": "arr"}, "transform": [{"filter": "datum.p=='d' && datum.u==0"}],
           "mark": {"type": "point", "shape": "arrow", "angle": 180, "filled": true, "color": "#222222", "size": 200, "yOffset": -14, "opacity": 1},
           "encoding": {"x": {"field": "d", "type": "quantitative"}, "y": {"datum": 0}}},
          {"data": {"name": "season"}, "transform": [{"filter": "datum.p=='d'"}],
           "mark": {"type": "text", "baseline": "top", "dy": 8, "fontSize": 23, "font": "Liberation Serif", "color": "black"},
           "encoding": {"x": {"field": "d", "type": "quantitative"}, "y": {"datum": 20}, "text": {"field": "s"}}},
          {"data": {"values": [{}]},
           "mark": {"type": "rule", "color": "black", "strokeWidth": 2.5},
           "encoding": {"x": {"datum": 0}, "x2": {"datum": 145.7}, "y": {"datum": 20}}}
        ]},
        {"data": {"name": "d"},
         "mark": {"type": "point", "shape": "triangle-up", "filled": false, "color": "#7fe87f", "size": 60, "strokeWidth": 1.4, "opacity": 1},
         "encoding": {
           "y": {"field": "t", "type": "quantitative", "title": "Temperature (⁰C)",
             "scale": {"domain": [-17.6, 35], "nice": false, "zero": false},
             "axis": {"orient": "right", "offset": 86, "values": [-15,-10,-5,0,5,10,15,20,25,30],
               "labelExpr": "datum.value%10==0?''+datum.value:''",
               "tickSize": {"condition": {"test": "datum.value%10==0", "value": 7}, "value": 4},
               "titleX": 62, "titleAngle": 270, "titleBaseline": "bottom", "titleAlign": "center"}}
         }},
        {"data": {"name": "d"},
         "mark": {"type": "point", "shape": "M0,-1L0.235,-0.324L0.951,-0.309L0.38,0.124L0.588,0.809L0,0.4L-0.588,0.809L-0.38,0.124L-0.951,-0.309L-0.235,-0.324Z", "filled": false, "size": 95, "strokeWidth": 1.4, "opacity": 1},
         "encoding": {
           "y": {"field": "s", "type": "quantitative", "title": "Solar radiation (PAR)",
             "scale": {"domain": [-60.4, 120], "nice": false, "zero": false},
             "axis": {"orient": "right", "offset": 0, "values": [-60,-40,-20,0,20,40,60,80,100,120],
               "labelExpr": "datum.value%40==0?''+datum.value:''",
               "tickSize": {"condition": {"test": "datum.value%40==0", "value": 7}, "value": 4},
               "titleX": 75, "titleAngle": 270, "titleBaseline": "bottom", "titleAlign": "center"}},
           "fill": {"value": "white"},
           "stroke": {"value": "#8e238e"}
         }}
      ],
      "resolve": {"scale": {"y": "independent"}}
    },
    {
      "width": 782, "height": 346,
      "encoding": {"x": {"field": "d", "type": "quantitative", "title": "Date",
        "scale": {"domain": [0, 145.7], "nice": false, "zero": false},
        "axis": {"values": [20,40,60,80,100,120,140], "labelExpr": "datum.value==20?'3-24':datum.value==40?'7-1':datum.value==60?'7-21':datum.value==80?'8-19':datum.value==100?'11-13':datum.value==120?'12-4':'1-8'",
          "offset": -13, "tickSize": 5, "labelPadding": 5, "titleY": 40, "titleBaseline": "middle", "domainWidth": 2.5, "labelFontSize": 26, "titleFontSize": 27}}},
      "layer": [
        {"layer": [
          {"data": {"name": "divider"}, "transform": [{"filter": "datum.p=='e'"}],
           "mark": {"type": "rule", "color": "#888888", "strokeDash": [2, 3], "strokeWidth": 1.2},
           "encoding": {"x": {"field": "d", "type": "quantitative"}}},
          {"data": {"name": "e"},
           "mark": {"type": "bar", "width": 4.3, "fill": "#ff0000", "stroke": "#1a1a1a", "strokeWidth": 0.6},
           "encoding": {
             "y": {"field": "f", "type": "quantitative", "title": "Hg flux (ng m⁻² hr⁻¹)",
               "scale": {"domain": [-7.6, 200], "nice": false, "zero": false},
               "axis": {"orient": "left", "values": [0,20,40,60,80,100,120,140,160,180,200],
                 "labelExpr": "datum.value==200?'(e)200':(datum.value%40==0?''+datum.value:'')",
                 "tickSize": {"condition": {"test": "datum.value%40==0", "value": 7}, "value": 4},
                 "titleX": -38, "titleAngle": 270, "titleBaseline": "bottom", "titleAlign": "center"}}
           }},
          {"data": {"name": "arr"}, "transform": [{"filter": "datum.p=='e' && datum.u==1"}],
           "mark": {"type": "point", "shape": "arrow", "filled": true, "color": "#222222", "size": 230, "yOffset": 14, "opacity": 1},
           "encoding": {"x": {"field": "d", "type": "quantitative"}, "y": {"datum": 0}}},
          {"data": {"name": "season"}, "transform": [{"filter": "datum.p=='e'"}],
           "mark": {"type": "text", "baseline": "top", "dy": 8, "fontSize": 23, "font": "Liberation Serif", "color": "black"},
           "encoding": {"x": {"field": "d", "type": "quantitative"}, "y": {"datum": 200}, "text": {"field": "s"}}},
          {"data": {"values": [{}]},
           "mark": {"type": "rule", "color": "black", "strokeWidth": 2.5},
           "encoding": {"x": {"datum": 0}, "x2": {"datum": 145.7}, "y": {"datum": 200}}}
        ]},
        {"data": {"name": "e"},
         "mark": {"type": "point", "shape": "triangle-up", "filled": false, "color": "#7fe87f", "size": 60, "strokeWidth": 1.4, "opacity": 1},
         "encoding": {
           "y": {"field": "t", "type": "quantitative", "title": "Temperature (⁰C)",
             "scale": {"domain": [-1.6, 37.1], "nice": false, "zero": false},
             "axis": {"orient": "right", "offset": 87, "values": [0,5,10,15,20,25,30,35],
               "labelExpr": "datum.value%10==0?''+datum.value:''",
               "tickSize": {"condition": {"test": "datum.value%10==0", "value": 7}, "value": 4},
               "titleX": 62, "titleAngle": 270, "titleBaseline": "bottom", "titleAlign": "center"}}
         }},
        {"data": {"name": "e"},
         "mark": {"type": "point", "shape": "M0,-1L0.235,-0.324L0.951,-0.309L0.38,0.124L0.588,0.809L0,0.4L-0.588,0.809L-0.38,0.124L-0.951,-0.309L-0.235,-0.324Z", "filled": false, "size": 95, "strokeWidth": 1.4, "opacity": 1},
         "encoding": {
           "y": {"field": "s", "type": "quantitative", "title": "Solar radiation (PAR)",
             "scale": {"domain": [-19, 500], "nice": false, "zero": false},
             "axis": {"orient": "right", "offset": 0, "values": [0,50,100,150,200,250,300,350,400,450,500],
               "labelExpr": "datum.value%100==0?''+datum.value:''",
               "tickSize": {"condition": {"test": "datum.value%100==0", "value": 7}, "value": 4},
               "titleX": 75, "titleAngle": 270, "titleBaseline": "bottom", "titleAlign": "center"}},
           "fill": {"value": "white"},
           "stroke": {"value": "#8e238e"}
         }}
      ],
      "resolve": {"scale": {"y": "independent"}}
    }
  ]
}
